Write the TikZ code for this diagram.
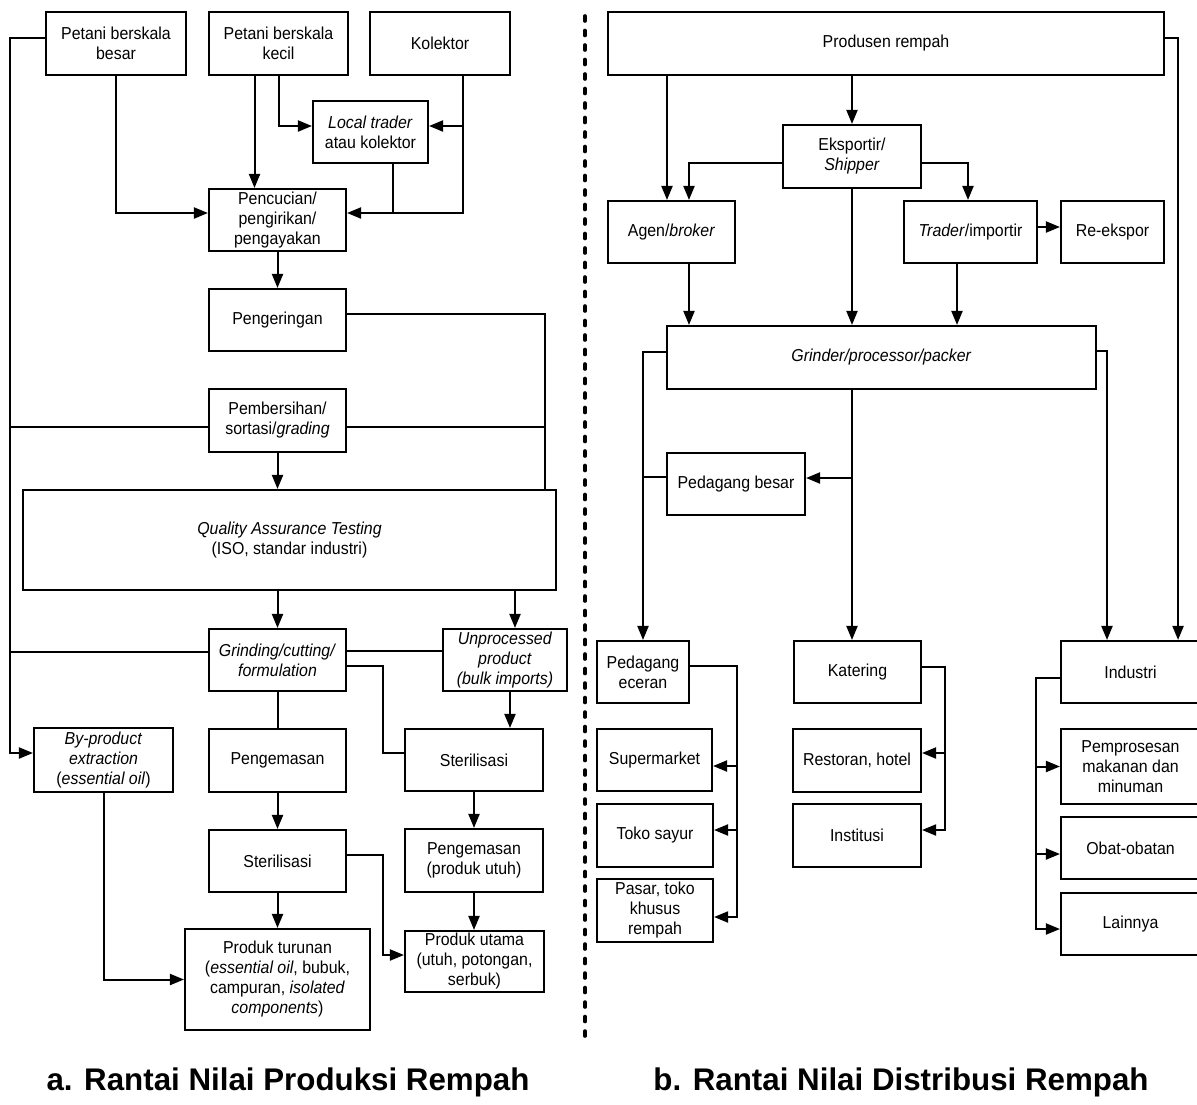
\documentclass[tikz,border=0pt]{standalone}
\usepackage{fontspec}
\setmainfont{Liberation Sans}[FakeStretch=0.92]
\newfontfamily\titlefont{Liberation Sans}
\usetikzlibrary{arrows.meta,calc}
\begin{document}
\begin{tikzpicture}[x=1pt,y=-1pt,
  bx/.style={draw, line width=2.1pt, inner sep=0pt, align=center, font=\fontsize{17.3}{20}\selectfont},
  conn/.style={line width=2pt},
  arr/.style={line width=2pt, -{Triangle[length=14pt,width=11pt]}},
  ttl/.style={font=\titlefont\fontsize{31.3}{37}\selectfont\bfseries, anchor=base},
  sep/.style={line width=3.6pt, dash pattern=on 5pt off 9.5pt, line cap=round}
]
\useasboundingbox (0,0) rectangle (1197,1104);
\newcommand{\bx}[6]{\node[bx, minimum width={#4-#2}, minimum height={#5-#3}] (#1) at ({(#2+#4)/2},{(#3+#5)/2}) {#6};}

% ---------- left: production ----------
\bx{pb}{46}{12}{186}{75}{Petani berskala\\besar}
\bx{pk}{209}{12}{348}{75}{Petani berskala\\kecil}
\bx{kol}{370}{12}{510}{75}{Kolektor}
\bx{lt}{313}{101}{428}{163}{\textit{Local trader}\\atau kolektor}
\bx{pc}{209}{189}{346}{251}{Pencucian/\\pengirikan/\\pengayakan}
\bx{pg}{209}{289}{346}{351}{Pengeringan}
\bx{pm}{209}{389}{346}{452}{Pembersihan/\\sortasi/\textit{grading}}
\bx{qa}{23}{490}{556}{590}{\textit{Quality Assurance Testing}\\(ISO, standar industri)}
\bx{gr}{209}{629}{346}{691}{\textit{Grinding/cutting/}\\\textit{formulation}}
\bx{up}{443}{629}{567}{691}{\textit{Unprocessed}\\\textit{product}\\\textit{(bulk imports)}}
\bx{bp}{34}{728}{173}{792}{\textit{By-product}\\\textit{extraction}\\(\textit{essential oil})}
\bx{pk2}{209}{729}{346}{792}{Pengemasan}
\bx{st2}{405}{729}{543}{791}{Sterilisasi}
\bx{st1}{209}{830}{346}{892}{Sterilisasi}
\bx{pu}{405}{829}{543}{892}{Pengemasan\\(produk utuh)}
\bx{pt}{185}{929}{370}{1030}{Produk turunan\\(\textit{essential oil}, bubuk,\\campuran, \textit{isolated}\\\textit{components})}
\bx{pum}{405}{931}{544}{992}{Produk utama\\(utuh, potongan,\\serbuk)}

\draw[arr] ([yshift=5.5pt]pb.west) -- ++(-35,0) |- ([yshift=7pt]bp.west);
\draw[conn] ([yshift=-6.5pt]pm.west) -- ++(-198,0);
\draw[conn] ([yshift=8pt]gr.west) -- ++(-198,0);
\draw[arr] (pb.south) |- ([yshift=7pt]pc.west);
\coordinate (pks) at ([xshift=-24pt]pk.south);
\draw[arr] (pks) -- (pks |- pc.north);
\draw[arr] (pk.south) |- ([yshift=6pt]lt.west);
\coordinate (kx) at ([xshift=23pt]kol.south);
\coordinate (lte) at ([yshift=6pt]lt.east);
\coordinate (pce) at ([yshift=7pt]pc.east);
\draw[arr] (kx) |- (pce);
\draw[arr] (kx |- lte) -- (lte);
\coordinate (lts) at ([xshift=22.5pt]lt.south);
\draw[conn] (lts) -- (lts |- pce);
\draw[arr] (pc.south) -- (pg.north);
\coordinate (rx) at ([xshift=-12pt]qa.north east);
\draw[conn] ([yshift=6pt]pg.east) -| (rx);
\coordinate (pme) at ([yshift=-6.5pt]pm.east);
\draw[conn] (pme) -- (pme -| rx);
\draw[arr] (pm.south) -- (pm.south |- qa.north);
\draw[arr] (qa.south -| gr.north) -- (gr.north);
\coordinate (upn) at ([xshift=10pt]up.north);
\draw[arr] (qa.south -| upn) -- (upn);
\draw[conn] ([yshift=9pt]gr.east) -- ([yshift=9pt]up.west);
\draw[conn] ([yshift=-6pt]gr.east) -- ++(36,0) |- ([yshift=7pt]st2.west);
\draw[conn] (gr.south) -- (pk2.north);
\coordinate (ups) at ([xshift=5pt]up.south);
\draw[arr] (ups) -- (ups |- st2.north);
\draw[arr] (pk2.south) -- (st1.north);
\draw[arr] (st2.south) -- (pu.north);
\draw[arr] ([yshift=6pt]st1.east) -- ++(36,0) |- ([yshift=6.5pt]pum.west);
\draw[arr] (st1.south) -- (pt.north);
\draw[arr] (pu.south) -- (pu.south |- pum.north);
\draw[arr] (bp.south) |- (pt.west);

% ---------- separator ----------
\coordinate (sa) at (585,16);
\coordinate (sb) at (585,1042);
\draw[sep] (sa) -- (sb);

% ---------- right: distribution ----------
\bx{prod}{608}{12}{1164}{75}{Produsen rempah}
\bx{eks}{783}{125}{921}{188}{Eksportir/\\\textit{Shipper}}
\bx{ag}{608}{201}{735}{263}{Agen/\textit{broker}}
\bx{tr}{904}{201}{1037}{263}{\textit{Trader}/importir}
\bx{re}{1061}{201}{1164}{263}{Re-ekspor}
\bx{gpp}{667}{326}{1096}{389}{\textit{Grinder/processor/packer}}
\bx{pbs}{667}{453}{805}{515}{Pedagang besar}
\bx{pe}{597}{641}{689}{703}{Pedagang\\eceran}
\bx{kat}{794}{641}{921}{703}{Katering}
\bx{ind}{1061}{641}{1200}{703}{Industri}
\bx{sm}{597}{729}{712}{791}{Supermarket}
\bx{ts}{597}{804}{713}{867}{Toko sayur}
\bx{ps}{597}{879}{713}{942}{Pasar, toko\\khusus\\rempah}
\bx{rh}{793}{729}{921}{792}{Restoran, hotel}
\bx{ins}{793}{804}{921}{867}{Institusi}
\bx{pmm}{1061}{729}{1200}{804}{Pemprosesan\\makanan dan\\minuman}
\bx{ob}{1061}{817}{1200}{879}{Obat-obatan}
\bx{lny}{1061}{893}{1200}{955}{Lainnya}

\coordinate (pre) at ([yshift=5.5pt]prod.east);
\coordinate (prx) at ([xshift=13pt]pre);
\draw[arr] (pre) -- (prx) -- (prx |- ind.north);
\coordinate (agn1) at ([xshift=-4.5pt]ag.north);
\draw[arr] (prod.south -| agn1) -- (agn1);
\draw[arr] (prod.south -| eks.north) -- (eks.north);
\coordinate (agn2) at ([xshift=17.5pt]ag.north);
\draw[arr] ([yshift=-6.5pt]eks.west) -| (agn2);
\draw[arr] ([yshift=-6.5pt]eks.east) -| ([xshift=-2.5pt]tr.north);
\draw[arr] ([yshift=5pt]tr.east) -- ([yshift=5pt]re.west);
\draw[arr] (eks.south) -- (eks.south |- gpp.north);
\coordinate (ags) at ([xshift=17.5pt]ag.south);
\draw[arr] (ags) -- (ags |- gpp.north);
\coordinate (trs) at ([xshift=-13.5pt]tr.south);
\draw[arr] (trs) -- (trs |- gpp.north);
\draw[arr] ([yshift=5.5pt]gpp.west) -| (pe.north);
\coordinate (pbw) at ([yshift=7pt]pbs.west);
\draw[conn] (pbw) -- (pbw -| pe.north);
\coordinate (katn) at ([xshift=-5.5pt]kat.north);
\draw[arr] (gpp.south -| katn) -- (katn);
\coordinate (pbe) at ([yshift=6pt]pbs.east);
\draw[arr] (pbe -| katn) -- (pbe);
\draw[arr] ([yshift=6.5pt]gpp.east) -| ([xshift=-23.5pt]ind.north);

\coordinate (pee) at ([yshift=6pt]pe.east);
\coordinate (rx2) at ([xshift=47pt]pee);
\draw[arr] (pee) -- (rx2) |- ([yshift=-6.5pt]ps.east);
\coordinate (sme) at ([yshift=-6pt]sm.east);
\draw[arr] (sme -| rx2) -- (sme);
\coordinate (tse) at ([yshift=5.5pt]ts.east);
\draw[arr] (tse -| rx2) -- (tse);

\coordinate (kate) at ([yshift=5pt]kat.east);
\coordinate (rx3) at ([xshift=23pt]kate);
\draw[arr] (kate) -- (rx3) |- ([yshift=5.5pt]ins.east);
\coordinate (rhe) at ([yshift=7.5pt]rh.east);
\draw[arr] (rhe -| rx3) -- (rhe);

\coordinate (indw) at ([yshift=-6pt]ind.west);
\coordinate (rx4) at ([xshift=-24pt]indw);
\draw[arr] (indw) -- (rx4) |- ([yshift=-5pt]lny.west);
\draw[arr] (pmm.west -| rx4) -- (pmm.west);
\coordinate (obw) at ([yshift=-6pt]ob.west);
\draw[arr] (obw -| rx4) -- (obw);

% ---------- titles ----------
\node[ttl] (ta) at (288,1090) {a. Rantai Nilai Produksi Rempah};
\node[ttl] (tb) at (901,1090) {b. Rantai Nilai Distribusi Rempah};
\end{tikzpicture}
\end{document}
